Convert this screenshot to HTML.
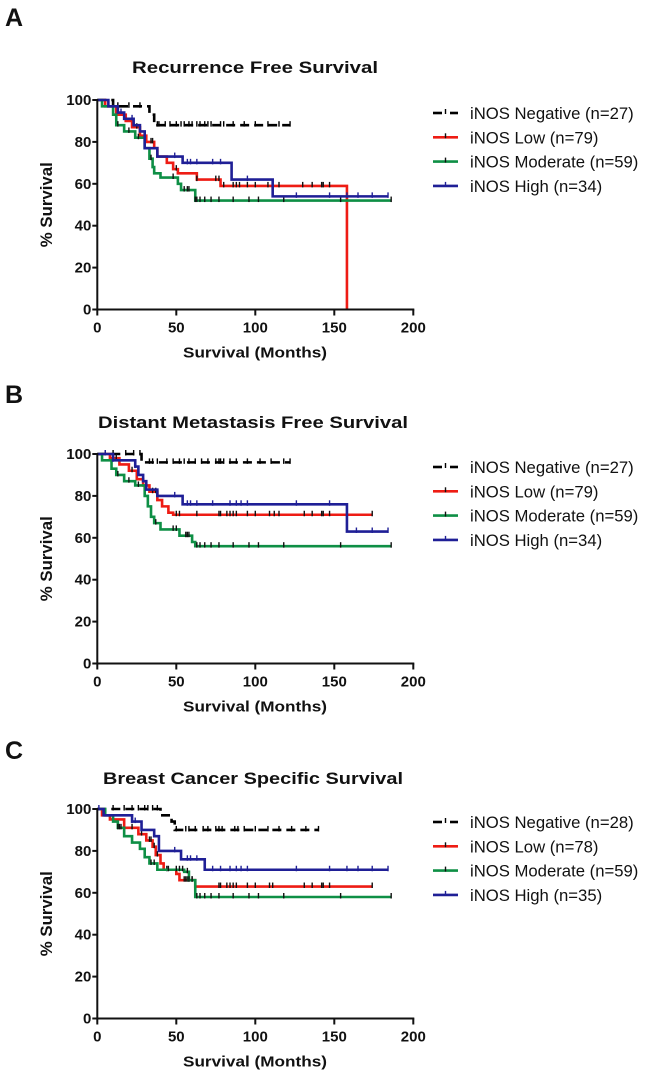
<!DOCTYPE html>
<html><head><meta charset="utf-8"><style>
html,body{margin:0;padding:0;background:#fff;}
svg{display:block;font-family:"Liberation Sans",Arial,sans-serif;}
</style></head><body>
<svg id="fig" width="650" height="1075" viewBox="0 0 650 1075" xmlns="http://www.w3.org/2000/svg"></svg>
<script>
const xTicks = [0, 50, 100, 150, 200];
const yTicks = [0, 20, 40, 60, 80, 100];
const seriesNames = ["negative", "low", "moderate", "high"];
const legendA = ["iNOS Negative (n=27)", "iNOS Low (n=79)", "iNOS Moderate (n=59)", "iNOS High (n=34)"];
const legendB = ["iNOS Negative (n=27)", "iNOS Low (n=79)", "iNOS Moderate (n=59)", "iNOS High (n=34)"];
const legendC = ["iNOS Negative (n=28)", "iNOS Low (n=78)", "iNOS Moderate (n=59)", "iNOS High (n=35)"];

// Panel A - RFS
const aNegTimes = [10, 33, 36];
const aNegSurv = [97, 93, 88];
const aNegCens = [13, 20, 27, 38, 39, 43, 46, 50, 53, 55, 58, 60, 63, 65, 68, 70, 72, 78, 80, 86, 93, 100, 108, 115, 122];
const aLowTimes = [5, 12, 18, 22, 27, 31, 36, 38, 44, 48, 51, 63, 78, 158];
const aLowSurv = [97, 93, 90, 87, 83, 80, 77, 73, 70, 67, 65, 62, 59, 0];
const aLowCens = [10, 25, 34, 35, 50, 63, 75, 77, 80, 86, 88, 90, 95, 100, 108, 115, 130, 136, 142, 143, 147];
const aModTimes = [3, 10, 12, 17, 24, 30, 33, 35, 36, 40, 51, 53, 62];
const aModSurv = [97, 93, 88, 85, 82, 77, 72, 68, 65, 63, 60, 57, 52];
const aModCens = [13, 20, 26, 34, 48, 55, 57, 58, 62, 63, 65, 68, 72, 77, 86, 96, 102, 118, 154, 186];
const aHighTimes = [7, 13, 17, 23, 27, 30, 38, 54, 85, 111];
const aHighSurv = [97, 94, 91, 88, 85, 77, 73, 70, 62, 54];
const aHighCens = [15, 22, 49, 57, 59, 63, 73, 78, 95, 126, 147, 158, 165, 174, 184];
const aEnds = [122, 158, 186, 184];

// Panel B - DMFS
const bNegTimes = [28];
const bNegSurv = [96];
const bNegCens = [5, 10, 18, 23, 27, 33, 35, 38, 44, 48, 52, 55, 58, 62, 66, 70, 75, 77, 78, 80, 84, 88, 95, 103, 110, 118, 122];
const bLowTimes = [8, 14, 20, 25, 29, 33, 38, 41, 45, 48];
const bLowSurv = [98, 95, 92, 88, 85, 82, 78, 75, 72, 71];
const bLowCens = [12, 22, 35, 37, 50, 52, 63, 77, 78, 82, 84, 86, 88, 95, 100, 109, 112, 115, 131, 136, 142, 143, 147, 174];
const bModTimes = [3, 9, 12, 17, 24, 30, 32, 34, 36, 40, 52, 60, 62];
const bModSurv = [97, 93, 90, 87, 85, 80, 75, 70, 67, 64, 61, 58, 56];
const bModCens = [13, 20, 26, 37, 48, 50, 56, 57, 58, 63, 65, 68, 72, 77, 86, 96, 102, 118, 154, 186];
const bHighTimes = [10, 24, 26, 29, 31, 38, 54, 158];
const bHighSurv = [97, 94, 90, 87, 83, 80, 76, 63];
const bHighCens = [5, 10, 24, 49, 57, 59, 63, 73, 84, 88, 91, 95, 126, 147, 164, 174, 184];
const bEnds = [122, 174, 186, 184];

// Panel C - BCSS
const cNegTimes = [40, 47, 49];
const cNegSurv = [97, 94, 90];
const cNegCens = [10, 17, 22, 26, 30, 32, 35, 38, 50, 56, 58, 62, 67, 70, 75, 77, 79, 87, 89, 93, 100, 108, 115, 123, 132, 140];
const cLowTimes = [3, 8, 17, 26, 31, 35, 37, 40, 42, 50, 52, 62];
const cLowSurv = [97, 95, 91, 88, 85, 82, 78, 74, 71, 69, 66, 63];
const cLowCens = [22, 28, 33, 34, 36, 38, 44, 55, 56, 57, 58, 60, 77, 78, 82, 84, 86, 88, 95, 100, 109, 111, 131, 136, 142, 143, 147, 174];
const cModTimes = [5, 10, 13, 17, 22, 27, 30, 33, 38, 55, 58, 62];
const cModSurv = [97, 94, 91, 87, 84, 81, 77, 74, 71, 70, 66, 58];
const cModCens = [13, 14, 15, 34, 36, 45, 50, 52, 54, 57, 58, 60, 63, 65, 68, 72, 77, 86, 96, 102, 118, 154, 186];
const cHighTimes = [4, 22, 28, 36, 39, 53, 68];
const cHighSurv = [97, 94, 90, 87, 80, 76, 71];
const cHighCens = [1, 22, 24, 49, 57, 59, 63, 73, 78, 84, 88, 91, 95, 126, 147, 158, 165, 174, 184];
const cEnds = [140, 174, 186, 184];

const NS = "http://www.w3.org/2000/svg";
const svg = document.getElementById("fig");
const colors = ["#000000", "#ee1c14", "#0e8f45", "#1f1f96"];
const censorColors = ["#000000", "#111111", "#111111", "#1f1f96"];

function mk(tag, attrs, parent) {
  const e = document.createElementNS(NS, tag);
  for (const k in attrs) e.setAttribute(k, attrs[k]);
  (parent || svg).appendChild(e);
  return e;
}
function survAt(times, surv, t) {
  let s = 100;
  for (let i = 0; i < times.length; i++) { if (times[i] <= t) s = surv[i]; }
  return s;
}

function panel(cfg) {
  const g = mk("g", {});
  
  
  const x0 = 97.3, x1 = 413.3, yTop = cfg.yTop, yBot = cfg.yTop + 209.5;
  const sx = v => x0 + (v - 0) / 200 * (x1 - x0);
  const sy = v => yBot - v / 100 * (yBot - yTop);

  const letter = mk("text", {x: 5, y: cfg.letterY, "font-size": 25, "font-weight": "bold", fill: "#111"}, g);
  letter.textContent = cfg.letter;
  
  

  const title = mk("text", {x: cfg.titleX, y: cfg.titleY, "font-size": 17, "font-weight": "bold", fill: "#111", "text-anchor": "middle", textLength: cfg.titleW, lengthAdjust: "spacingAndGlyphs"}, g);
  title.textContent = cfg.title;
  
  

  cfg.series.forEach((s, k) => {
    let d = "M" + sx(0) + "," + sy(100);
    let cur = 100;
    for (let i = 0; i < s.times.length; i++) {
      d += " H" + sx(s.times[i]) + " V" + sy(s.surv[i]);
      cur = s.surv[i];
    }
    if (cur > 0) d += " H" + sx(s.end);
    const p = mk("path", {d: d, fill: "none", stroke: colors[k], "stroke-width": 2.6, "stroke-dasharray": k === 0 ? "9,5" : "none"}, g);
    
    
    s.cens.forEach(t => {
      const v = survAt(s.times, s.surv, t);
      if (v === 0) return;
      const c = mk("line", {x1: sx(t), x2: sx(t), y1: sy(v) - 4, y2: sy(v) + 1.5, stroke: censorColors[k], "stroke-width": 1.4}, g);
      
      
    });
  });

  const ya = mk("line", {x1: x0, x2: x0, y1: yTop - 1, y2: yBot + 1, stroke: "#111", "stroke-width": 2}, g);
  
  
  const xa = mk("line", {x1: x0 - 1, x2: x1 + 1, y1: yBot, y2: yBot, stroke: "#111", "stroke-width": 2}, g);
  
  
  yTicks.forEach(v => {
    const t = mk("line", {x1: x0 - 5, x2: x0, y1: sy(v), y2: sy(v), stroke: "#111", "stroke-width": 2}, g);
    
    
    const l = mk("text", {x: x0 - 6, y: sy(v) + 5, "font-size": 15, "font-weight": "bold", fill: "#111", "text-anchor": "end"}, g);
    l.textContent = v;
    
    
  });
  xTicks.forEach(v => {
    const t = mk("line", {x1: sx(v), x2: sx(v), y1: yBot, y2: yBot + 6, stroke: "#111", "stroke-width": 2}, g);
    
    
    const l = mk("text", {x: sx(v), y: yBot + 23, "font-size": 15, "font-weight": "bold", fill: "#111", "text-anchor": "middle"}, g);
    l.textContent = v;
    
    
  });
  const xt = mk("text", {x: 255, y: yBot + 48, "font-size": 15, "font-weight": "bold", fill: "#111", "text-anchor": "middle", textLength: 144, lengthAdjust: "spacingAndGlyphs"}, g);
  xt.textContent = "Survival (Months)";
  
  
  const ymid = (yTop + yBot) / 2;
  const yt = mk("text", {x: 0, y: 0, "font-size": 17, "font-weight": "bold", fill: "#111", "text-anchor": "middle", textLength: 85, lengthAdjust: "spacingAndGlyphs", transform: "translate(52," + ymid + ") rotate(-90)"}, g);
  yt.textContent = "% Survival";
  
  

  cfg.legend.forEach((txt, k) => {
    const cy = yTop + 13 + k * 24.3;
    const lg = mk("g", {}, g);
    
    
    if (k === 0) {
      mk("line", {x1: 433, x2: 442, y1: cy, y2: cy, stroke: "#000", "stroke-width": 2.6}, lg);
      mk("line", {x1: 450, x2: 458, y1: cy, y2: cy, stroke: "#000", "stroke-width": 2.6}, lg);
    } else {
      mk("line", {x1: 433, x2: 458, y1: cy, y2: cy, stroke: colors[k], "stroke-width": 2.6}, lg);
    }
    mk("line", {x1: 445.5, x2: 445.5, y1: cy - 4, y2: cy + 1, stroke: censorColors[k], "stroke-width": 1.4}, lg);
    const t = mk("text", {x: 470, y: cy + 6, "font-size": 16.7, fill: "#111"}, lg);
    t.textContent = txt;
  });
}

panel({name: "panel-a-recurrence-free", letter: "A", letterY: 26, title: "Recurrence Free Survival", titleX: 255, titleY: 73, titleW: 246, yTop: 100, legend: legendA,
  series: [
    {times: aNegTimes, surv: aNegSurv, cens: aNegCens, end: aEnds[0]},
    {times: aLowTimes, surv: aLowSurv, cens: aLowCens, end: aEnds[1]},
    {times: aModTimes, surv: aModSurv, cens: aModCens, end: aEnds[2]},
    {times: aHighTimes, surv: aHighSurv, cens: aHighCens, end: aEnds[3]}
  ]});
panel({name: "panel-b-distant-metastasis-free", letter: "B", letterY: 403, title: "Distant Metastasis Free Survival", titleX: 253, titleY: 428, titleW: 310, yTop: 454, legend: legendB,
  series: [
    {times: bNegTimes, surv: bNegSurv, cens: bNegCens, end: bEnds[0]},
    {times: bLowTimes, surv: bLowSurv, cens: bLowCens, end: bEnds[1]},
    {times: bModTimes, surv: bModSurv, cens: bModCens, end: bEnds[2]},
    {times: bHighTimes, surv: bHighSurv, cens: bHighCens, end: bEnds[3]}
  ]});
panel({name: "panel-c-breast-cancer-specific", letter: "C", letterY: 759, title: "Breast Cancer Specific Survival", titleX: 253, titleY: 784, titleW: 300, yTop: 809, legend: legendC,
  series: [
    {times: cNegTimes, surv: cNegSurv, cens: cNegCens, end: cEnds[0]},
    {times: cLowTimes, surv: cLowSurv, cens: cLowCens, end: cEnds[1]},
    {times: cModTimes, surv: cModSurv, cens: cModCens, end: cEnds[2]},
    {times: cHighTimes, surv: cHighSurv, cens: cHighCens, end: cEnds[3]}
  ]});
</script>
</body></html>
